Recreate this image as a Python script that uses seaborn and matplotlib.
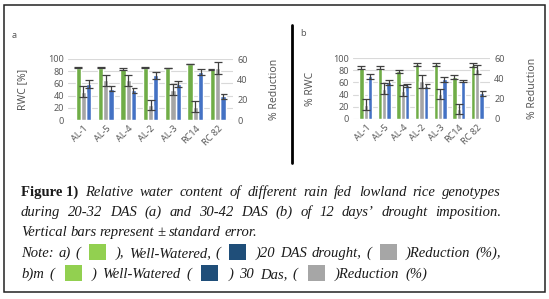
import pandas as pd
import matplotlib
matplotlib.use('Agg')
from matplotlib import pyplot as plt
from matplotlib.patches import Rectangle
from matplotlib.lines import Line2D
import seaborn as sns

sns.set_theme(style='white')
plt.rcParams['font.family'] = ['Noto Sans', 'DejaVu Sans']

W, H = 549, 299

genotypes = ['AL-1', 'AL-5', 'AL-4', 'AL-2', 'AL-3', 'RC14', 'RC 82']
series_order = ['Well-Watered', 'Reduction', 'Drought']
palette = {'Well-Watered': '#70AD47', 'Reduction': '#A5A5A5', 'Drought': '#4472C4'}

# panel a : 20-32 DAS
a_ww = [86, 86, 84, 86, 85, 92, 83]
a_ww_err = [0.5, 0.5, 1.5, 0.5, 0.5, 0.5, 1]
a_dr = [59, 51, 49, 73, 59, 79, 39]
a_dr_err = [6, 4, 4, 5, 5, 5, 4]
a_red = [28, 39, 39, 15, 30, 13, 51]
a_red_err = [5.5, 5.5, 5.5, 5, 5, 5.5, 6]

# panel b : 30-42 DAS
b_ww = [84, 84, 78, 90, 90, 69, 88]
b_ww_err = [2.5, 2.5, 2, 2.5, 2.5, 3.5, 3]
b_dr = [70, 60, 55, 54, 65, 62, 42]
b_dr_err = [4.5, 4, 3, 3, 4, 2, 4]
b_red = [14, 30, 28, 37, 25, 10, 49]
b_red_err = [5.5, 5.5, 5, 6.5, 5, 5, 4.5]

tick_col = '#595959'
err_col = '#404040'


def draw_panel(rect, ww, ww_err, dr, dr_err, red, red_err, left_label, left_x, right_x):
    ax = fig.add_axes(rect)
    n = len(genotypes)
    df = pd.DataFrame({'Genotype': genotypes * 3,
                       'Series': ['Well-Watered'] * n + ['Reduction'] * n + ['Drought'] * n,
                       'Value': ww + red + dr})
    errs = [ww_err, red_err, dr_err]
    ax2 = ax.twinx()
    # same dodged layout on both axes, each axis shows only its own series
    for a, shown in [(ax, [0, 2]), (ax2, [1])]:
        sns.barplot(data=df, x='Genotype', y='Value', hue='Series', hue_order=series_order,
                    order=genotypes, palette=palette, width=0.7, errorbar=None, legend=False,
                    saturation=1, ax=a)
        bars = list(a.containers)
        for i, cont in enumerate(bars):
            if i not in shown:
                for p in cont:
                    p.set_visible(False)
                continue
            xs = [p.get_x() + p.get_width() / 2 for p in cont]
            ys = [p.get_height() for p in cont]
            a.errorbar(xs, ys, yerr=errs[i], fmt='none', ecolor=err_col, elinewidth=0.9,
                       capsize=3, capthick=0.9)
    ax.set_ylim(0, 100)
    ax.set_yticks(range(0, 101, 20))
    ax2.set_ylim(0, 60)
    ax2.set_yticks(range(0, 61, 20))
    ax.yaxis.grid(True, color='#D9D9D9', lw=0.8)
    ax.set_axisbelow(True)
    for a in (ax, ax2):
        for s in a.spines.values():
            s.set_visible(False)
        a.tick_params(length=0, labelsize=6.5, colors=tick_col, pad=3)
    ax.set_xlabel('')
    ax2.set_xlabel('')
    ax.set_xticks(range(n))
    ax.set_xticklabels(genotypes, rotation=45, ha='right', rotation_mode='anchor')
    ax.set_ylabel(left_label, fontsize=7.5, color=tick_col)
    ax2.set_ylabel('% Reduction', fontsize=7.5, color=tick_col)
    ax.yaxis.set_label_coords(left_x, 0.5)
    ax2.yaxis.set_label_coords(right_x, 0.5)
    return ax


fig = plt.figure(figsize=(W / 100, H / 100), dpi=100)

draw_panel([68 / W, 1 - 120 / H, 165 / W, 61 / H], a_ww, a_ww_err, a_dr, a_dr_err,
           a_red, a_red_err, 'RWC [%]', -0.24, 1.22)
draw_panel([353 / W, 1 - 119 / H, 137 / W, 61 / H], b_ww, b_ww_err, b_dr, b_dr_err,
           b_red, b_red_err, '% RWC', -0.27, 1.27)

fig.text(12 / W, 1 - 38 / H, 'a', fontsize=6.5, color=tick_col)
fig.text(300 / W, 1 - 36 / H, 'b', fontsize=6.5, color=tick_col)

fig.add_artist(Rectangle((4 / W, 1 - 292 / H), 541 / W, 287 / H, transform=fig.transFigure,
                         fill=False, lw=1.1, ec='#222222'))
fig.add_artist(Line2D([292 / W, 292 / W], [1 - 25 / H, 1 - 163 / H], transform=fig.transFigure,
                      lw=2, color='black'))

# caption
cap_size = 10.5
cap_col = '#1a1a1a'
renderer = fig.canvas.get_renderer()


def caption_line(tokens, base_y, x0=21, x1=None, space=3.4):
    items = []
    for tok in tokens:
        if isinstance(tok, tuple) and tok[0] == 'sq':
            items.append(('sq', tok[1], 25))
        else:
            if isinstance(tok, tuple):
                txt, weight, style = tok[1], 'bold', 'normal'
            else:
                txt, weight, style = tok, 'normal', 'italic'
            t = fig.text(0, 1 - base_y / H, txt, fontsize=cap_size, family='Liberation Serif',
                         weight=weight, style=style, color=cap_col, va='baseline')
            items.append(('t', t, t.get_window_extent(renderer).width))
    total = sum(w for _, _, w in items)
    if x1 is not None and len(items) > 1:
        space = (x1 - x0 - total) / (len(items) - 1)
    x = x0
    for kind, obj, w in items:
        if kind == 'sq':
            fig.add_artist(Rectangle(((x + 4) / W, 1 - (base_y + 3) / H), 17 / W, 16 / H,
                                     transform=fig.transFigure, color=obj, lw=0))
        else:
            obj.set_x(x / W)
        x += w + space


caption_line([('b', 'Figure 1)'), 'Relative', 'water', 'content', 'of', 'different', 'rain', 'fed',
              'lowland', 'rice', 'genotypes'], 196, x1=501)
caption_line(['during', '20-32', 'DAS', '(a)', 'and', '30-42', 'DAS', '(b)', 'of', '12', 'days\u2019',
              'drought', 'imposition.'], 216, x1=501)
caption_line(['Vertical', 'bars', 'represent', '\u00b1', 'standard', 'error.'], 236)
caption_line(['Note:', 'a)', '(', ('sq', '#92D050'), '),', 'Well-Watered,', '(', ('sq', '#1F4E79'),
              ')20', 'DAS', 'drought,', '(', ('sq', '#A6A6A6'), ')Reduction', '(%),'], 257, x1=501)
caption_line(['b)m', '(', ('sq', '#92D050'), ')', 'Well-Watered', '(', ('sq', '#1F4E79'), ')', '30',
              'Das,', '(', ('sq', '#A6A6A6'), ')Reduction', '(%)'], 278, x1=427)

plt.savefig('out.png', dpi=100)
